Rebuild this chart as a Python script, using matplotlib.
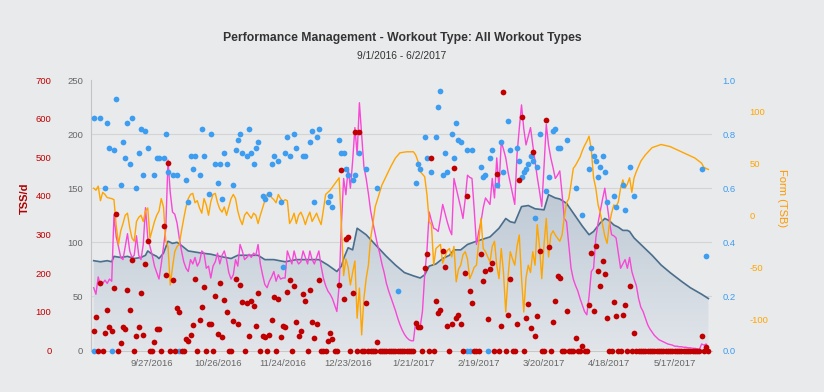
"""Performance Management chart - TSS, IF, CTL, ATL, TSB"""
import numpy as np
import pandas as pd
import matplotlib
matplotlib.use('Agg')
import matplotlib.pyplot as plt
from matplotlib.colors import LinearSegmentedColormap

plt.rcParams['font.family'] = ['Liberation Sans', 'DejaVu Sans']
plt.rcParams['axes.unicode_minus'] = False

START = pd.Timestamp('2016-09-01')
TITLE = 'Performance Management - Workout Type: All Workout Types'
SUBTITLE = '9/1/2016 - 6/2/2017'

# daily TSS, day 0 = 9/1/2016
tss = [
    50, 86, 0, 175, 0, 45, 104, 62, 50, 163,
    352, 0, 19, 60, 56, 157, 106, 235, 0, 37,
    60, 149, 41, 225, 284, 0, 0, 22, 56, 56,
    0, 321, 195, 485, 0, 182, 0, 110, 100, 0,
    0, 31, 24, 41, 65, 186, 0, 78, 112, 164,
    0, 69, 68, 0, 140, 43, 175, 36, 130, 100,
    0, 0, 76, 186, 68, 170, 126, 0, 122, 37,
    129, 114, 63, 149, 0, 37, 34, 0, 39, 80,
    138, 0, 132, 34, 63, 60, 151, 182, 0, 166,
    75, 37, 50, 146, 127, 0, 156, 73, 32, 69,
    182, 0, 0, 0, 25, 45, 31, 0, 0, 170,
    466, 132, 289, 293, 0, 149, 565, 0, 565, 0,
    0, 123, 0, 0, 0, 0, 22, 0, 0, 0,
    0, 0, 0, 0, 0, 0, 0, 0, 0, 0,
    0, 0, 0, 71, 60, 60, 0, 214, 250, 0,
    498, 0, 129, 97, 104, 257, 215, 63, 0, 69,
    472, 84, 93, 69, 0, 201, 399, 153, 123, 0,
    0, 0, 250, 179, 207, 82, 212, 226, 0, 457,
    0, 64, 670, 0, 91, 185, 0, 0, 69, 440,
    604, 0, 84, 120, 58, 514, 37, 88, 257, 0,
    0, 597, 268, 0, 74, 127, 192, 188, 0, 0,
    101, 0, 0, 0, 32, 0, 0, 11, 0, 0,
    117, 252, 101, 270, 207, 168, 231, 199, 84, 0,
    0, 126, 88, 0, 0, 93, 119, 0, 168, 0,
    44, 0, 0, 0, 0, 0, 0, 0, 0, 0,
    0, 0, 0, 0, 0, 0, 0, 0, 0, 0,
    0, 0, 0, 0, 0, 0, 0, 0, 0, 0,
    38, 0, 10, 0,
]

# intensity factor per workout day
if_days = [
    0, 3, 5, 6, 7, 9, 10, 12, 13, 14,
    15, 16, 17, 19, 20, 21, 22, 23, 24, 27,
    28, 29, 31, 32, 33, 35, 37, 41, 42, 43,
    44, 45, 47, 48, 49, 51, 52, 54, 55, 56,
    57, 58, 59, 62, 63, 64, 65, 66, 68, 69,
    70, 71, 72, 73, 75, 76, 78, 79, 80, 82,
    83, 84, 85, 86, 87, 89, 90, 93, 94, 96,
    97, 98, 99, 100, 104, 105, 106, 109, 110, 111,
    112, 113, 115, 116, 118, 121, 126, 135, 143, 144,
    145, 147, 148, 150, 152, 153, 154, 155, 156, 157,
    159, 160, 161, 162, 163, 166, 168, 172, 173, 174,
    176, 177, 179, 181, 182, 184, 185, 188, 189, 190,
    191, 192, 193, 194, 195, 196, 197, 198, 201, 202,
    204, 205, 206, 207, 210, 214, 217, 220, 221, 222,
    223, 224, 225, 226, 227, 228, 231, 232, 235, 236,
    238, 240, 270, 272,
]
if_vals = [
    0.86, 0.86, 0.60, 0.84, 0.75, 0.74, 0.93, 0.61, 0.77, 0.71,
    0.84, 0.69, 0.86, 0.60, 0.73, 0.82, 0.65, 0.81, 0.75, 0.65,
    0.71, 0.71, 0.71, 0.80, 0.66, 0.65, 0.65, 0.63, 0.55, 0.72,
    0.67, 0.72, 0.65, 0.82, 0.72, 0.58, 0.80, 0.69, 0.62, 0.69,
    0.56, 0.73, 0.69, 0.61, 0.74, 0.78, 0.80, 0.73, 0.72, 0.82,
    0.73, 0.69, 0.75, 0.77, 0.57, 0.56, 0.58, 0.69, 0.72, 0.70,
    0.55, 0.31, 0.73, 0.79, 0.72, 0.80, 0.75, 0.72, 0.72, 0.77,
    0.81, 0.55, 0.79, 0.82, 0.55, 0.57, 0.53, 0.78, 0.73, 0.73,
    0.67, 0.65, 0.63, 0.65, 0.73, 0.67, 0.60, 0.22, 0.62, 0.69,
    0.67, 0.79, 0.71, 0.66, 0.79, 0.90, 0.96, 0.65, 0.73, 0.66,
    0.80, 0.71, 0.84, 0.78, 0.77, 0.74, 0.74, 0.68, 0.64, 0.65,
    0.71, 0.74, 0.61, 0.77, 0.66, 0.85, 0.74, 0.75, 0.70, 0.64,
    0.66, 0.67, 0.69, 0.72, 0.70, 0.49, 0.68, 0.80, 0.59, 0.64,
    0.81, 0.82, 0.75, 0.75, 0.78, 0.60, 0.50, 0.67, 0.75, 0.72,
    0.70, 0.64, 0.68, 0.72, 0.66, 0.55, 0.57, 0.53, 0.61, 0.52,
    0.68, 0.57, 0.67, 0.35,
]
if_zero_days = [0, 8, 38, 166, 167, 175]

# fitness (CTL)
ctl_days = [0, 3, 6, 8, 9, 12, 15, 18, 21, 23, 24, 26, 28, 29, 31, 33, 35,
            37, 39, 42, 45, 48, 52, 56, 61, 64, 68, 73, 76, 80, 85, 90, 95,
            100, 104, 108, 110, 111, 113, 115, 117, 119, 121, 125, 130, 134,
            138, 142, 145, 147, 149, 152, 155, 158, 160, 163, 166, 170, 173,
            176, 180, 183, 185, 187, 190, 193, 196, 200, 202, 205, 207, 210,
            214, 217, 220, 222, 225, 227, 229, 231, 233, 235, 237, 238, 240,
            243, 248, 252, 256, 261, 265, 270, 273]
ctl_vals = [83, 82, 83, 82, 87, 86, 87, 85, 86, 88, 92, 89, 87, 85, 90, 101,
            99, 100, 97, 92, 91, 90, 89, 87, 85, 88, 88, 88, 84, 84, 82, 84,
            84, 84, 79, 73, 78, 85, 95, 93, 113, 110, 107, 98, 87, 79, 72, 69,
            67, 70, 78, 80, 85, 88, 93, 93, 98, 101, 103, 105, 113, 122, 119,
            118, 133, 134, 131, 130, 144, 141, 140, 136, 124, 115, 107, 110,
            118, 122, 120, 116, 114, 111, 111, 110, 104, 98, 88, 79, 72, 64,
            58, 52, 48]

# fatigue (ATL), daily
atl = [
    58, 52, 68, 60, 62, 65, 62, 66, 64, 125,
    105, 96, 86, 84, 96, 108, 92, 86, 88, 106,
    88, 84, 98, 132, 104, 96, 88, 78, 72, 66,
    80, 96, 112, 176, 146, 128, 126, 118, 104, 92,
    82, 76, 73, 84, 80, 86, 78, 82, 92, 90,
    76, 78, 67, 78, 82, 90, 80, 88, 92, 84,
    72, 66, 70, 84, 78, 98, 92, 84, 86, 89,
    86, 90, 88, 98, 80, 70, 61, 58, 64, 68,
    73, 64, 70, 66, 67, 67, 92, 86, 80, 92,
    84, 80, 82, 92, 86, 80, 92, 84, 80, 86,
    92, 78, 67, 60, 55, 52, 48, 42, 36, 60,
    116, 159, 144, 169, 150, 175, 206, 181, 229, 200,
    170, 159, 145, 129, 118, 108, 98, 90, 80, 72,
    62, 55, 49, 43, 37, 30, 24, 19, 15, 12,
    10, 9, 9, 27, 24, 22, 36, 70, 92, 128,
    120, 113, 112, 110, 122, 135, 127, 119, 112, 107,
    159, 150, 141, 132, 122, 140, 162, 160, 159, 130,
    98, 110, 119, 132, 141, 138, 135, 159, 141, 178,
    150, 193, 186, 178, 165, 155, 145, 135, 181, 205,
    227, 205, 190, 198, 206, 190, 175, 160, 147, 133,
    170, 209, 190, 178, 169, 159, 162, 166, 145, 122,
    119, 98, 76, 66, 60, 55, 48, 42, 36, 33,
    50, 73, 76, 104, 118, 129, 140, 150, 135, 120,
    107, 106, 104, 90, 76, 80, 84, 76, 86, 73,
    66, 60, 48, 40, 36, 30, 24, 20, 17, 14,
    12, 10, 9, 8, 7, 6, 5.5, 5, 4, 4,
    3.5, 3.5, 3, 3, 2.5, 2.5, 2, 2, 1.5, 1,
    6, 5, 6, 1,
]

# form (TSB)
tsb_days = [
    0, 1, 2, 3, 4, 5, 6, 8, 9, 10, 11, 12, 13, 14, 15, 16, 17, 18, 19, 20,
    21, 22, 23, 24, 25, 26, 27, 28, 29, 30, 31, 32, 33, 34, 35, 36, 37, 38,
    39, 40, 41, 42, 43, 44, 45, 46, 47, 48, 49, 50, 51, 52, 53, 54, 55, 56,
    57, 58, 59, 60, 61, 62, 63, 64, 65, 66, 67, 68, 69, 70, 71, 72, 73, 74,
    75, 76, 77, 78, 79, 80, 81, 82, 83, 84, 85, 86, 87, 88, 89, 90, 91, 92,
    93, 94, 95, 96, 97, 98, 99, 100, 101, 102, 103, 104, 105, 106, 107, 108,
    109, 110, 111, 112, 113, 114, 115, 116, 117, 118, 119, 120, 121, 122,
    123, 124, 125, 126, 127, 128, 130, 132, 134, 136, 139, 142, 143, 144,
    145, 147, 148, 149, 150, 151, 152, 153, 154, 155, 156, 157, 158, 159,
    160, 161, 162, 163, 164, 165, 166, 167, 168, 169, 170, 171, 172, 173,
    174, 175, 176, 177, 178, 179, 180, 181, 182, 183, 184, 185, 186, 187,
    188, 189, 190, 191, 192, 193, 194, 195, 196, 197, 198, 199, 200, 201,
    202, 203, 204, 205, 206, 207, 208, 209, 210, 211, 212, 213, 214, 215,
    216, 217, 218, 219, 220, 221, 222, 223, 224, 225, 226, 227, 228, 229,
    230, 231, 232, 233, 234, 235, 236, 237, 238, 239, 240, 241, 243, 245,
    248, 252, 256, 261, 267, 270, 271, 273,
]
tsb_vals = [
    26, 24, 28, 14, 22, 20, 17, 16, 15, -10, -28, -15, -8, 0, 2, -12, -22,
    -25, -6, -2, 0, -6, 4, 7, -22, -14, -6, 0, 4, 16, 8, -25, -30, -67, -50,
    -35, -30, -28, -15, -3, 8, 16, 20, 21, 12, 14, 7, 2, 16, 10, 0, 13, 20,
    21, 12, 6, 3, 8, 0, 8, 16, 20, 16, 4, -4, -9, 0, 3, 0, -3, 2, 0, -8, 0,
    7, 14, 20, 21, 17, 15, 12, 20, 16, 13, 15, 14, -8, -4, 2, -8, 0, 3, -2,
    -9, -2, 3, -6, -2, 2, -4, -9, 5, 20, 22, 24, 27, 30, 33, 36, -9, -58,
    -42, -50, -67, -55, -44, -99, -70, -115, -80, -61, -48, -22, -8, 8, 15,
    22, 29, 38, 47, 55, 60, 61, 61, 58, 52, 42, 37, 20, -6, -9, -48, -32,
    -30, -28, -46, -40, -34, -32, -40, -30, -64, -52, -48, -38, -35, -42,
    -61, -56, -50, -48, -25, -3, -32, -35, -40, -45, -30, -25, -48, -61,
    -32, -55, -93, -60, -35, -42, -48, -30, -19, -60, -93, -60, -48, -55,
    -35, -48, -9, -30, -61, -28, -3, -40, -19, -15, -19, -22, -25, -19, -2,
    12, 16, 30, 45, 48, 52, 56, 62, 67, 71, 76, 63, 36, 26, 10, 2, -9, -20,
    -27, -9, 2, 10, 8, 13, 26, 34, 26, 30, 36, 22, 36, 42, 52, 58, 65, 68,
    66, 61, 55, 50, 46, 44,
]

tick_days = [26, 55, 84, 113, 142, 171, 200, 229, 258]

# colours
BG = '#e9eaec'
RED = '#c00000'
BLUE = '#3d9df0'
ORANGE = '#ffa500'
MAGENTA = '#f748d6'
CTL_LINE = '#4a6e8c'
GRAY_TXT = '#666666'

days = np.arange(len(tss))
xmin, xmax = -1.2, 274.6

fig = plt.figure(figsize=(8.24, 3.92), dpi=100, facecolor=BG)
ax = fig.add_axes([91 / 824, 1 - 350.5 / 392, (712 - 91) / 824, (350.5 - 80) / 392])
ax.set_facecolor('none')
ax_tsb = ax.twinx()
ax_if = ax.twinx()
ax_tss = ax.twinx()

# CTL area with vertical gradient
poly = ax.fill_between(ctl_days, ctl_vals, 0, facecolor='none', edgecolor='none')
grad = np.linspace(1, 0, 256).reshape(-1, 1)
cmap = LinearSegmentedColormap.from_list('ctl', ['#e1e5ea', '#a5b6c6'])
im = ax.imshow(grad, cmap=cmap, aspect='auto', extent=[xmin, xmax, 0, 250],
               origin='upper', zorder=1)
im.set_clip_path(poly.get_paths()[0], transform=ax.transData)
ax.plot(ctl_days, ctl_vals, color=CTL_LINE, lw=1.2, zorder=3)

# ATL line (same scale as CTL)
ax.plot(days, atl, color=MAGENTA, lw=1.0, zorder=4)

# TSB line
ax_tsb.plot(tsb_days, tsb_vals, color=ORANGE, lw=1.0)

# IF dots
ax_if.scatter(if_days, if_vals, s=17, color=BLUE, lw=0, clip_on=False)
ax_if.scatter(if_zero_days, [0] * len(if_zero_days), s=17, color=BLUE, lw=0,
              clip_on=False)

# TSS dots
ax_tss.scatter(days, tss, s=17, color=RED, lw=0, clip_on=False)

# scales
ax.set_xlim(xmin, xmax)
ax.set_ylim(0, 250)
ax_tss.set_ylim(0, 700)
ax_if.set_ylim(0, 1.0)
ax_tsb.set_ylim(-130, 130)

for a in (ax, ax_tsb, ax_if, ax_tss):
    for s in a.spines.values():
        s.set_visible(False)
ax.spines['left'].set_visible(True)
ax.spines['left'].set_color('#c4c4c4')
ax.spines['bottom'].set_visible(True)
ax.spines['bottom'].set_color('#c8c8c8')

ax.set_yticks(np.arange(0, 251, 50))
ax.yaxis.grid(True, color='#d4d4d4', lw=0.8)
ax.get_ygridlines()[-1].set_visible(False)
ax.set_axisbelow(True)
ax.tick_params(axis='y', length=0, pad=5.5, labelsize=6.8, labelcolor=GRAY_TXT)

ax.set_xticks(tick_days)
ax.set_xticklabels([f'{d.month}/{d.day}/{d.year}'
                    for d in (START + pd.to_timedelta(tick_days, unit='D'))])
ax.tick_params(axis='x', length=0, pad=6, labelsize=6.8, labelcolor=GRAY_TXT)

ax_tss.yaxis.set_ticks_position('left')
ax_tss.set_yticks(np.arange(0, 701, 100))
ax_tss.tick_params(axis='y', length=0, pad=28.5, labelsize=6.8, labelcolor=RED)

ax_if.set_yticks(np.arange(0, 1.01, 0.2))
ax_if.set_yticklabels([f'{v:.1f}' for v in np.arange(0, 1.01, 0.2)])
ax_if.tick_params(axis='y', length=0, pad=7.5, labelsize=6.8, labelcolor=BLUE)

ax_tsb.set_yticks([-100, -50, 0, 50, 100])
ax_tsb.tick_params(axis='y', length=0, pad=27, labelsize=6.8, labelcolor=ORANGE)

fig.text(25 / 824, 1 - 198 / 392, 'TSS/d', rotation=90, ha='center', va='center',
         color='#b00000', fontsize=8, fontweight='bold')
fig.text(782 / 824, 1 - 198 / 392, 'Form (TSB)', rotation=270, ha='center',
         va='center', color='#ff9900', fontsize=8)

fig.text(402 / 824, 1 - 38 / 392, TITLE, ha='center', va='center',
         color='#333333', fontsize=8.8, fontweight='bold')
fig.text(402 / 824, 1 - 56 / 392, SUBTITLE, ha='center', va='center',
         color='#333333', fontsize=7.4)

fig.savefig('out.png', dpi=100, facecolor=BG)
